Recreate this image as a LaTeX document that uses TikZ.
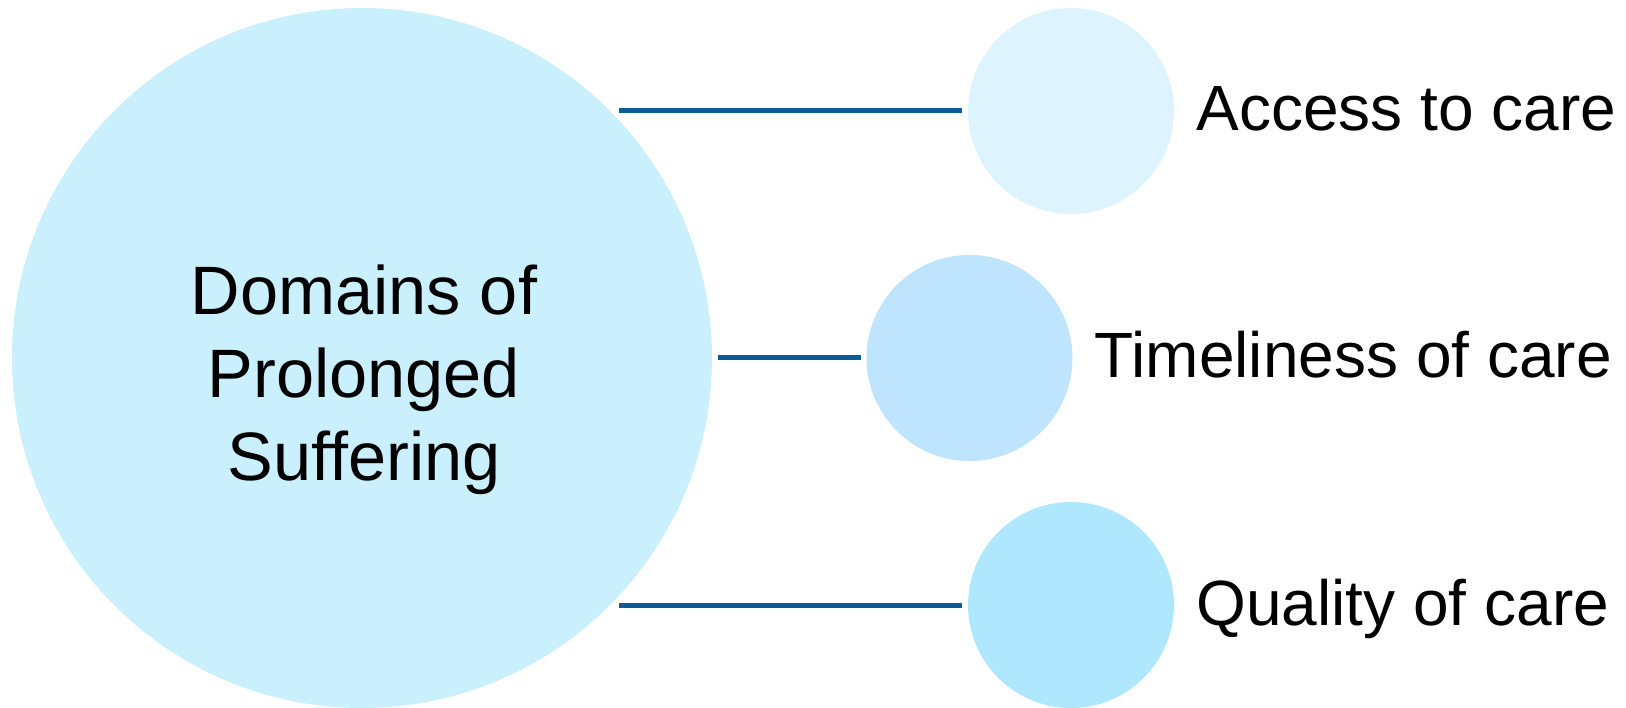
\documentclass[tikz,border=0pt]{standalone}
\usepackage{fontspec}
\setmainfont{Liberation Sans}
\usetikzlibrary{backgrounds}
\definecolor{hubfill}{HTML}{CAEFFD}
\definecolor{accessfill}{HTML}{DDF4FE}
\definecolor{timefill}{HTML}{BFE4FD}
\definecolor{qualfill}{HTML}{AFE8FE}
\definecolor{linkblue}{HTML}{0D5C9A}
\begin{document}
\begin{tikzpicture}[x=1pt,y=-1pt,
  hub/.style={circle, fill=hubfill, minimum size=700pt, inner sep=0pt},
  leaf/.style={circle, minimum size=206pt, inner sep=0pt},
  link/.style={draw=linkblue, line width=5pt, shorten <=5.5pt, shorten >=5.5pt},
  bigtext/.style={font=\fontsize{68.5}{83}\selectfont, align=center, inner sep=0pt},
  tag/.style={font=\fontsize{64}{76}\selectfont, anchor=base west, inner sep=0pt}]
\useasboundingbox (0,0) rectangle (1626,708);

% central domain circle
\node[hub] (hub) at (362,358) {};
\node[bigtext] (title) at (364,380) {Domains of\\Prolonged\\Suffering};

% the three domains
\node[leaf, fill=accessfill] (access) at (1071,111) {};
\node[leaf, fill=timefill] (time) at (969.5,358) {};
\node[leaf, fill=qualfill] (quality) at (1071,605) {};

\node[tag] (accessT) at ([xshift=22pt,yshift=-19.5pt]access.east) {Access to care};
\node[tag] (timeT) at ([xshift=22pt,yshift=-19.5pt]time.east) {Timeliness of care};
\node[tag] (qualityT) at ([xshift=22pt,yshift=-20pt]quality.east) {Quality of care};

% connectors behind the circles
\begin{pgfonlayer}{background}
\draw[link] (hub.44.8 |- access.west) -- (access.west);
\draw[link] (hub.east |- time.west) -- (time.west);
\draw[link] (hub.-44.8 |- quality.west) -- (quality.west);
\end{pgfonlayer}
\end{tikzpicture}
\end{document}
